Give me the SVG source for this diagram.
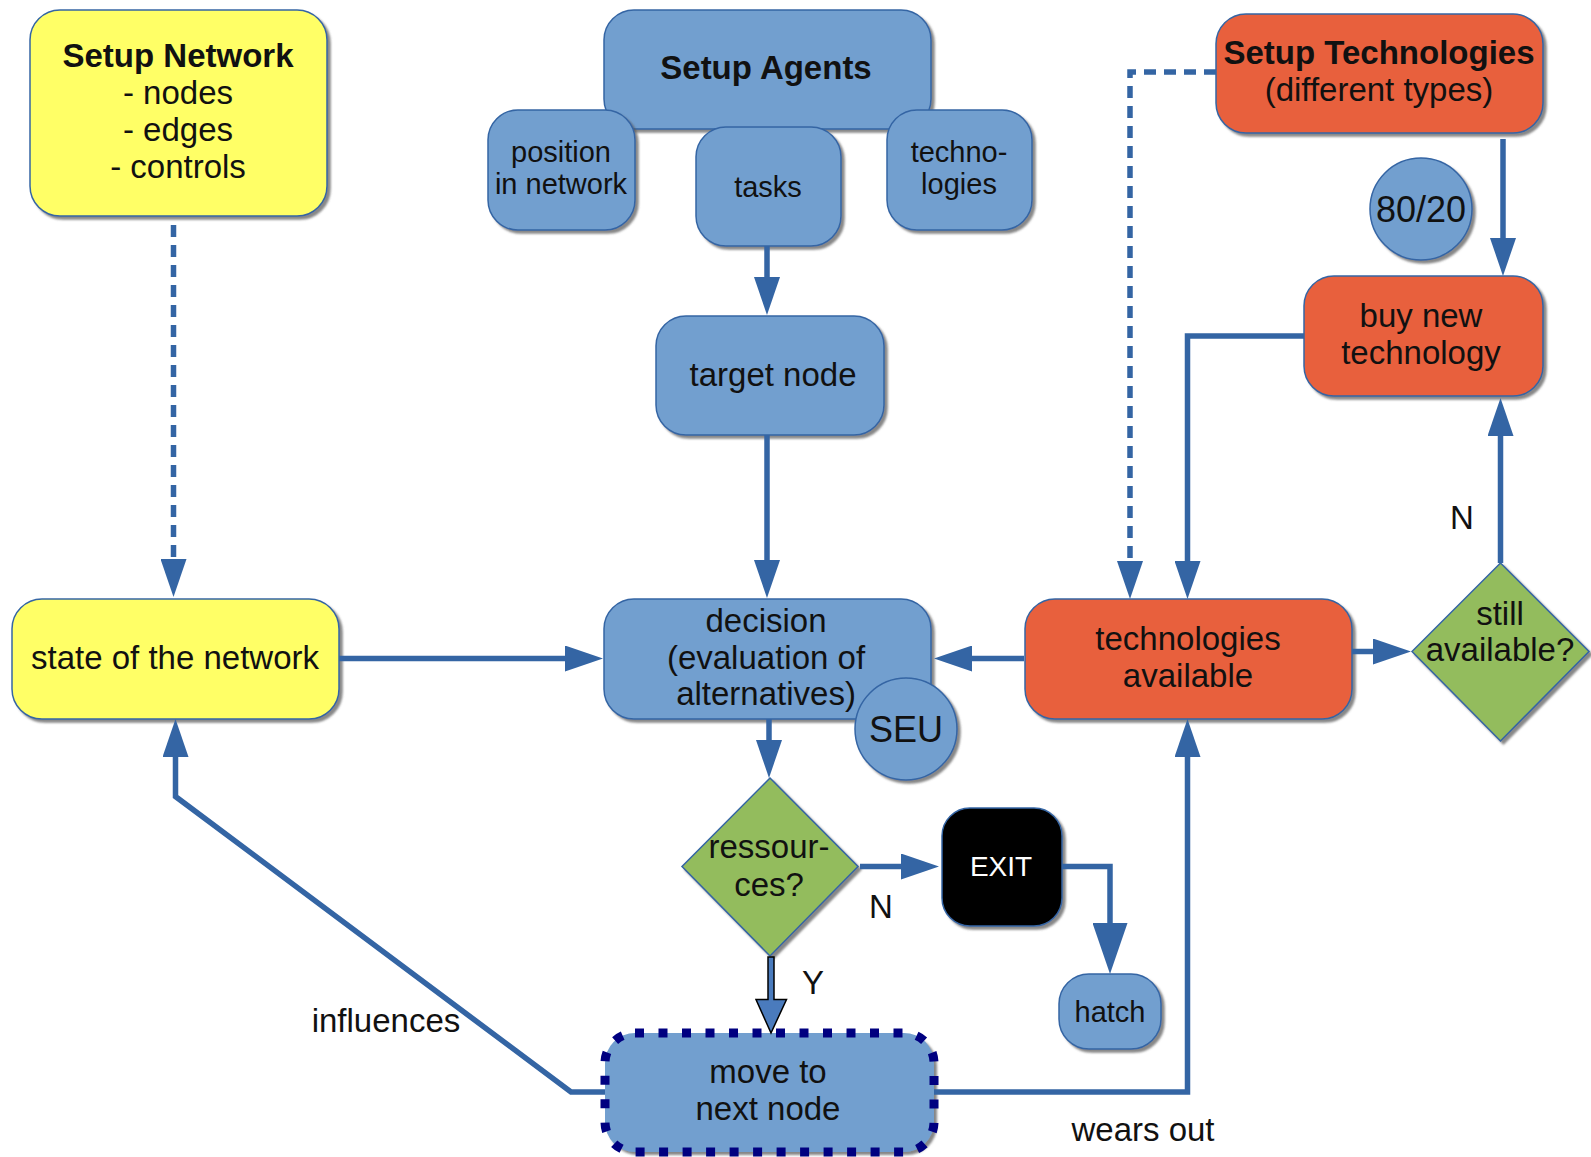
<svg xmlns="http://www.w3.org/2000/svg" width="1591" height="1157" viewBox="0 0 1591 1157">
<style>
  text { font-family: "Liberation Sans", Arial, sans-serif; fill: #111; text-anchor: middle; }
  .t33 { font-size: 33px; }
  .t29 { font-size: 29px; }
  .t36 { font-size: 36px; }
  .b { font-weight: bold; }
  .blue { fill: #729fcf; stroke: #3465a4; stroke-width: 1.5; }
  .yellow { fill: #ffff66; stroke: #3465a4; stroke-width: 1.5; }
  .red { fill: #e8603c; stroke: #3465a4; stroke-width: 1.5; }
  .green { fill: #93bc5d; stroke: #3465a4; stroke-width: 1.5; }
  .black { fill: #000; stroke: #3465a4; stroke-width: 1.5; }
  .sh { filter: url(#shadow); }
  .con { fill: none; stroke: #3465a4; stroke-width: 5.5; }
  .dash { stroke-dasharray: 12 8; }
</style>
<defs>
  <filter id="shadow" x="-10%" y="-10%" width="130%" height="130%">
    <feDropShadow dx="3" dy="3" stdDeviation="1.2" flood-color="#555" flood-opacity="0.7"/>
  </filter>
  <marker id="ah" markerUnits="userSpaceOnUse" markerWidth="38" markerHeight="26" viewBox="0 0 38 26" refX="8" refY="13" orient="auto">
    <path d="M0,0 L38,13 L0,26 z" fill="#3465a4"/>
  </marker>
  <marker id="ahbig" markerUnits="userSpaceOnUse" markerWidth="51" markerHeight="35" viewBox="0 0 51 35" refX="10" refY="17.5" orient="auto">
    <path d="M0,0 L51,17.5 L0,35 z" fill="#3465a4"/>
  </marker>
</defs>
<rect width="1591" height="1157" fill="#fff"/>

<g id="setup-network">
  <rect class="yellow sh" x="30" y="10" width="297" height="206" rx="30"/>
  <text class="t33 b" x="178" y="67">Setup Network</text>
  <text class="t33" x="178" y="104">- nodes</text>
  <text class="t33" x="178" y="141">- edges</text>
  <text class="t33" x="178" y="178">- controls</text>
</g>

<g id="setup-agents">
  <rect class="blue sh" x="604" y="10" width="327" height="119" rx="30"/>
  <text class="t33 b" x="766" y="79">Setup Agents</text>
</g>

<g id="position-in-network">
  <rect class="blue sh" x="488" y="110" width="147" height="120" rx="30"/>
  <text class="t29" x="561" y="162">position</text>
  <text class="t29" x="561" y="194">in network</text>
</g>

<g id="tasks">
  <rect class="blue sh" x="696" y="127" width="145" height="119" rx="30"/>
  <text class="t29" x="768" y="197">tasks</text>
</g>

<g id="technologies-agent">
  <rect class="blue sh" x="887" y="110" width="145" height="120" rx="30"/>
  <text class="t29" x="959" y="162">techno-</text>
  <text class="t29" x="959" y="194">logies</text>
</g>

<g id="target-node">
  <rect class="blue sh" x="656" y="316" width="228" height="119" rx="30"/>
  <text class="t33" x="773" y="386">target node</text>
</g>

<g id="decision">
  <rect class="blue sh" x="604" y="599" width="327" height="120" rx="30"/>
  <text class="t33" x="766" y="632">decision</text>
  <text class="t33" x="766" y="669">(evaluation of</text>
  <text class="t33" x="766" y="705">alternatives)</text>
</g>

<g id="seu">
  <circle class="blue sh" cx="906" cy="729" r="51"/>
  <text class="t36" x="906" y="742">SEU</text>
</g>

<g id="state-of-network">
  <rect class="yellow sh" x="12" y="599" width="327" height="120" rx="30"/>
  <text class="t33" x="175" y="669">state of the network</text>
</g>

<g id="technologies-available">
  <rect class="red sh" x="1025" y="599" width="327" height="120" rx="30"/>
  <text class="t33" x="1188" y="650">technologies</text>
  <text class="t33" x="1188" y="687">available</text>
</g>

<g id="still-available">
  <polygon class="green sh" points="1500.5,563 1589,651.5 1500.5,741 1412,651.5"/>
  <text class="t33" x="1500" y="625">still</text>
  <text class="t33" x="1500" y="661">available?</text>
</g>

<g id="setup-technologies">
  <rect class="red sh" x="1216" y="14" width="327" height="119" rx="30"/>
  <text class="t33 b" x="1379" y="64">Setup Technologies</text>
  <text class="t33" x="1379" y="101">(different types)</text>
</g>

<g id="ratio-80-20">
  <circle class="blue sh" cx="1421" cy="209" r="51"/>
  <text class="t36" x="1421" y="222">80/20</text>
</g>

<g id="buy-new-technology">
  <rect class="red sh" x="1304" y="276" width="239" height="120" rx="30"/>
  <text class="t33" x="1421" y="327">buy new</text>
  <text class="t33" x="1421" y="364">technology</text>
</g>

<g id="ressources">
  <polygon class="green sh" points="770,778 858,866.5 770,956 682,866.5"/>
  <text class="t33" x="769" y="858">ressour-</text>
  <text class="t33" x="769" y="896">ces?</text>
</g>

<g id="exit">
  <rect class="black sh" x="942" y="808" width="120" height="118" rx="28"/>
  <text x="1001" y="876" style="font-size:28px;fill:#fff">EXIT</text>
</g>

<g id="hatch">
  <rect class="blue sh" x="1059" y="974" width="102" height="75" rx="30"/>
  <text class="t29" x="1110" y="1022">hatch</text>
</g>

<g id="move-to-next-node">
  <rect class="sh" x="605" y="1033" width="329" height="119" rx="30" fill="#729fcf"/>
  <rect x="605" y="1033" width="329" height="119" rx="30" fill="none" stroke="#000080" stroke-width="9" stroke-dasharray="9 14.5"/>
  <text class="t33" x="768" y="1083">move to</text>
  <text class="t33" x="768" y="1120">next node</text>
</g>

<g id="connectors">
  <path class="con dash" d="M173.5,225 V567" marker-end="url(#ah)"/>
  <path class="con" d="M767,246 V285" marker-end="url(#ah)"/>
  <path class="con" d="M767,435 V568" marker-end="url(#ah)"/>
  <path class="con" d="M339,658.5 H573" marker-end="url(#ah)"/>
  <path class="con" d="M1024,658.5 H964" marker-end="url(#ah)"/>
  <path class="con" d="M769,719 V748" marker-end="url(#ah)"/>
  <path class="con" d="M860,866.5 H909" marker-end="url(#ah)"/>
  <path d="M768,957 H774 V999.5 H786.5 L771,1033 L756,999.5 H768 Z" fill="#4a7bbd" stroke="#000" stroke-width="1.5"/>
  <path class="con" d="M1062,866.5 H1110 V933" marker-end="url(#ahbig)"/>
  <path class="con" d="M605,1092 H571 L175.5,796.5 V749" marker-end="url(#ah)"/>
  <path class="con" d="M934,1092 H1187.5 V749" marker-end="url(#ah)"/>
  <path class="con" d="M1352,651.5 H1381" marker-end="url(#ah)"/>
  <path class="con" d="M1500.5,563 V428" marker-end="url(#ah)"/>
  <path class="con" d="M1503,139 V246" marker-end="url(#ah)"/>
  <path class="con" d="M1304,336 H1187.5 V569" marker-end="url(#ah)"/>
  <path class="con dash" d="M1216,72 H1130 V569" marker-end="url(#ah)"/>
  <text class="t33" x="386" y="1032">influences</text>
  <text class="t33" x="1143" y="1141">wears out</text>
  <text class="t33" x="881" y="918">N</text>
  <text class="t33" x="813" y="994">Y</text>
  <text class="t33" x="1462" y="529">N</text>
</g>
</svg>
